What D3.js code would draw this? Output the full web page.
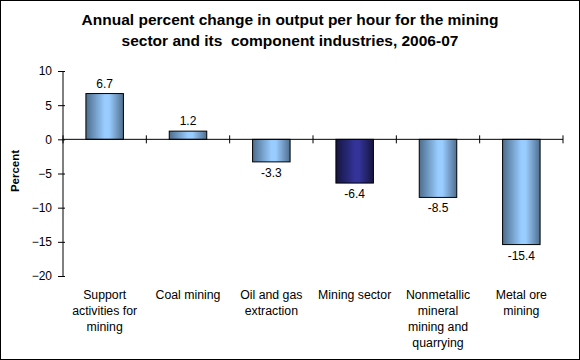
<!DOCTYPE html>
<html><head><meta charset="utf-8">
<script src="https://cdn.jsdelivr.net/npm/d3@7"></script>
<style>body{margin:0;background:#fff}svg{display:block}</style>
</head><body>
<svg id="c" width="580" height="360"></svg>
<script>
const categories = [["Support","activities for","mining"],["Coal mining"],["Oil and gas","extraction"],["Mining sector"],["Nonmetallic","mineral","mining and","quarrying"],["Metal ore","mining"]];
const values = [6.7, 1.2, -3.3, -6.4, -8.5, -15.4];
const highlight = [false, false, false, true, false, false];
const yTicks = [10, 5, 0, -5, -10, -15, -20];
const titleLines = ["Annual percent change in output per hour for the mining","sector and its  component industries, 2006-07"];

const svg = d3.select("#c");
const font = "Arial, 'Liberation Sans', sans-serif";
svg.append("rect").attr("x",0.5).attr("y",0.5).attr("width",579).attr("height",359).attr("fill","#fff").attr("stroke","#000");

const defs = svg.append("defs");
function grad(id, edgeL, mid, edgeR){
  const g = defs.append("linearGradient").attr("id",id).attr("x1","0").attr("x2","1").attr("y1","0").attr("y2","0");
  g.append("stop").attr("offset","0").attr("stop-color",edgeL);
  g.append("stop").attr("offset","0.5").attr("stop-color",mid);
  g.append("stop").attr("offset","0.62").attr("stop-color",mid);
  g.append("stop").attr("offset","1").attr("stop-color",edgeR);
}
grad("gl","#4d6d8c","#99ccff","#4f6f8e");
grad("gd","#151540","#333399","#151540");

const x = d3.scaleBand().domain(d3.range(values.length)).range([63,563]).paddingInner(0.55).paddingOuter(0.275);
const y = d3.scaleLinear().domain([-20,10]).range([276,71]);

svg.selectAll("text.title").data(titleLines).join("text")
  .attr("x",290).attr("y",(d,i)=>25+i*21).attr("text-anchor","middle")
  .style("white-space","pre")
  .attr("font-family",font).attr("font-weight","bold").attr("font-size",15.5).text(d=>d);

// y axis
const ya = svg.append("g").attr("transform","translate(63,0)")
  .call(d3.axisLeft(y).tickValues(yTicks).tickSize(5).tickPadding(6).tickFormat(d3.format("d")));
ya.select(".domain").attr("d","M0,"+y(10)+"V"+y(-20)).attr("stroke","#000");
ya.selectAll(".tick line").attr("x1",-5).attr("x2",2).attr("stroke","#000");
ya.selectAll(".tick text").attr("font-family",font).attr("font-size",12).attr("fill","#000");

svg.append("text").attr("transform","translate(19,171) rotate(-90)").attr("text-anchor","middle")
  .attr("font-family",font).attr("font-weight","bold").attr("font-size",11.5).text("Percent");

// bars
svg.selectAll("rect.bar").data(values).join("rect")
  .attr("x",(d,i)=>x(i)).attr("width",x.bandwidth())
  .attr("y",d=>y(Math.max(0,d))).attr("height",d=>Math.abs(y(d)-y(0)))
  .attr("fill",(d,i)=>highlight[i]?"url(#gd)":"url(#gl)").attr("stroke","#000").attr("stroke-width",1);

// zero line + category ticks
const zy = y(0);
const step = x.step();
svg.append("line").attr("x1",63).attr("x2",563).attr("y1",zy).attr("y2",zy).attr("stroke","#000");
svg.selectAll("line.ct").data(d3.range(values.length+1)).join("line")
  .attr("x1",i=>63+i*step).attr("x2",i=>63+i*step).attr("y1",zy-4).attr("y2",zy+4).attr("stroke","#000");

// value labels
svg.selectAll("text.val").data(values).join("text")
  .attr("x",(d,i)=>x(i)+x.bandwidth()/2)
  .attr("y",d=>d>=0?y(d)-6:y(d)+15)
  .attr("text-anchor","middle").attr("font-family",font).attr("font-size",12).text(d=>d.toFixed(1));

// category labels
categories.forEach((lines,i)=>{
  svg.append("text").attr("text-anchor","middle").attr("font-family",font).attr("font-size",12.3)
    .selectAll("tspan").data(lines).join("tspan")
    .attr("x",x(i)+x.bandwidth()/2).attr("y",(d,j)=>299+j*16).text(d=>d);
});
</script>
</body></html>
